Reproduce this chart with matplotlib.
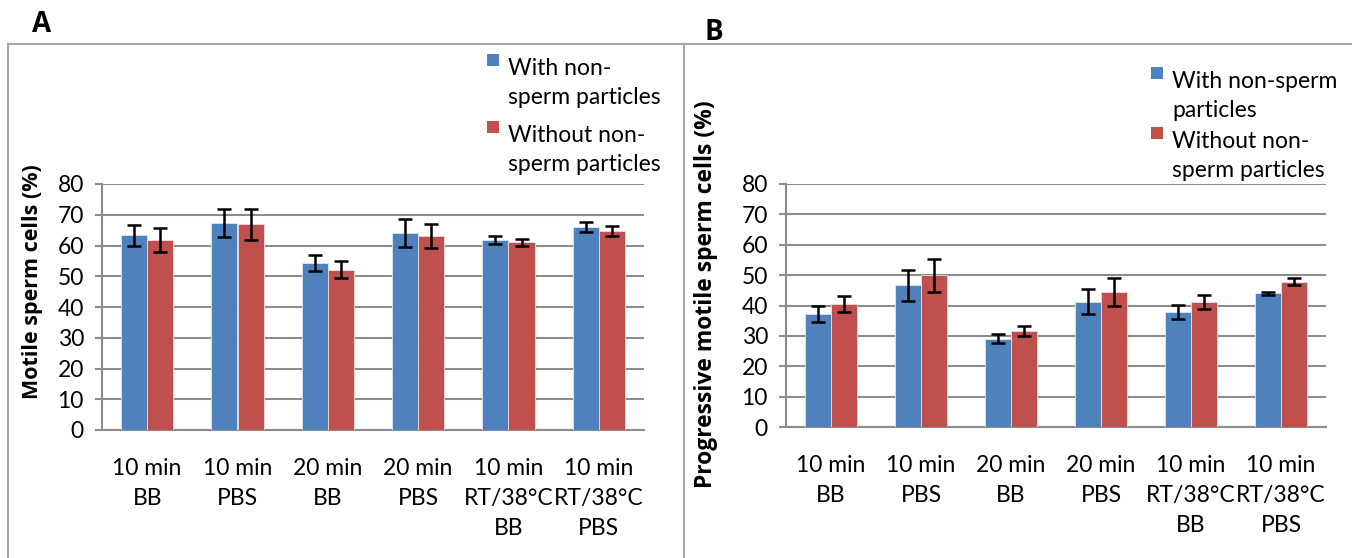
"""
Motile / progressive motile sperm cells — two grouped bar panels (A, B)
"""
import matplotlib
matplotlib.use('Agg')
import matplotlib.pyplot as plt
from matplotlib.lines import Line2D
from matplotlib.patches import Rectangle
import numpy as np

plt.rcParams['font.family'] = ['Lato', 'DejaVu Sans']
BOLD_FONT = ['Open Sans', 'DejaVu Sans']

W, H = 1352, 558

categories = ['10 min\nBB', '10 min\nPBS', '20 min\nBB', '20 min\nPBS',
              '10 min\nRT/38°C\nBB', '10 min\nRT/38°C\nPBS']
series_names = ['With non-sperm particles', 'Without non-sperm particles']

# panel A: motile sperm cells (%)
motile_with = [63.3, 67.4, 54.2, 64.0, 61.8, 66.1]
motile_with_err = [3.4, 4.5, 2.6, 4.5, 1.2, 1.6]
motile_without = [61.9, 66.9, 52.1, 63.1, 61.0, 64.7]
motile_without_err = [3.9, 5.1, 2.8, 3.9, 1.0, 1.5]

# panel B: progressive motile sperm cells (%)
prog_with = [37.2, 46.6, 29.1, 41.3, 37.8, 44.0]
prog_with_err = [2.5, 5.1, 1.5, 4.0, 2.4, 0.6]
prog_without = [40.5, 50.0, 31.6, 44.4, 41.0, 47.9]
prog_without_err = [2.7, 5.4, 1.7, 4.5, 2.3, 1.1]

BLUE = '#4F81BD'
RED = '#C0504D'
GRID = '#8C8C8C'
FRAME = '#A6A6A6'
FS = 16.5


def px_box(x0, y_top, x1, y_bot):
    return [x0 / W, 1 - y_bot / H, (x1 - x0) / W, (y_bot - y_top) / H]


fig = plt.figure(figsize=(W / 100, H / 100), dpi=100)


def draw_panel(rect, v1, e1, v2, e2, ylabel, ylab_x, ylab_y, ylab_fs):
    ax = fig.add_axes(rect)
    x = np.arange(len(categories))
    bw = 0.29
    err_kw = dict(ecolor='black', elinewidth=1.8, capsize=5, capthick=1.8)
    ax.bar(x - bw / 2, v1, bw, yerr=e1, color=BLUE, edgecolor='#DCE6F2',
           linewidth=0.6, error_kw=err_kw, zorder=3)
    ax.bar(x + bw / 2, v2, bw, yerr=e2, color=RED, edgecolor='#F2DCDB',
           linewidth=0.6, error_kw=err_kw, zorder=3)
    ax.set_xlim(-0.5, len(categories) - 0.5)
    ax.set_ylim(0, 80)
    ax.set_yticks(range(0, 81, 10))
    ax.set_xticks(x)
    ax.set_xticklabels(categories, fontsize=FS, linespacing=1.55)
    ax.tick_params(axis='x', length=0, pad=20)
    ax.tick_params(axis='y', labelsize=FS, length=5, color=GRID, width=1.5, pad=8)
    ax.grid(axis='y', color=GRID, linewidth=1.5, zorder=0)
    for s in ['top', 'right']:
        ax.spines[s].set_visible(False)
    for s in ['left', 'bottom']:
        ax.spines[s].set_color(GRID)
        ax.spines[s].set_linewidth(1.5)
    fig.text(ylab_x / W, 1 - ylab_y / H, ylabel, rotation=90, fontsize=ylab_fs,
             fontweight='bold', family=BOLD_FONT, ha='center', va='center')
    return ax


draw_panel(px_box(102, 184, 644, 430), motile_with, motile_with_err,
           motile_without, motile_without_err,
           'Motile sperm cells (%)', 33, 282, 15.5)
draw_panel(px_box(786, 184, 1326, 427), prog_with, prog_with_err,
           prog_without, prog_without_err,
           'Progressive motile sperm cells (%)', 706, 294, 16.5)

# panel letters
fig.text(42 / W, 1 - 25 / H, 'A', fontsize=20, fontweight='bold', family=BOLD_FONT,
         ha='center', va='center')
fig.text(714 / W, 1 - 32 / H, 'B', fontsize=20, fontweight='bold', family=BOLD_FONT,
         ha='center', va='center')

# outer frames
for xs, ys in [([8, 684], [44, 44]), ([8, 8], [44, H]), ([684, 684], [44, H]),
               ([684, W], [44, 44])]:
    fig.add_artist(Line2D([v / W for v in xs], [1 - v / H for v in ys],
                          color=FRAME, linewidth=1.5))


def legend(x_sq, x_txt, lines_y, texts):
    for (y, txt, col) in zip(lines_y, texts, [BLUE, RED]):
        fig.add_artist(Rectangle(((x_sq - 6) / W, 1 - (y + 6) / H), 12 / W, 12 / H,
                                 facecolor=col, edgecolor='none'))
        fig.text(x_txt / W, 1 - (y - 2) / H, txt, fontsize=FS, ha='left',
                 va='top', linespacing=1.45)


legend(493, 508, [60, 127], ['With non-\nsperm particles', 'Without non-\nsperm particles'])
legend(1157, 1172, [73, 133], ['With non-sperm\nparticles', 'Without non-\nsperm particles'])

fig.savefig('out.png', dpi=100)
